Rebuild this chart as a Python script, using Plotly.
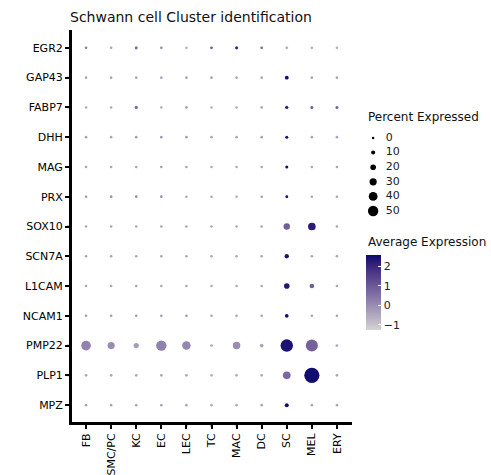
import numpy as np
import plotly.graph_objects as go

# ---------------- data ----------------
genes = ["EGR2", "GAP43", "FABP7", "DHH", "MAG", "PRX", "SOX10",
         "SCN7A", "L1CAM", "NCAM1", "PMP22", "PLP1", "MPZ"]
clusters = ["FB", "SMC/PC", "KC", "EC", "LEC", "TC", "MAC", "DC", "SC", "MEL", "ERY"]

# percent expressed (rows = genes, cols = clusters)
pct_rows = [
    [2, 1, 4, 2, 1, 3, 4, 3, 1.5, 1, 1],          # EGR2
    [1.5, 1.5, 1.5, 1.5, 1.5, 1.5, 1.5, 1.5, 9, 1.5, 1.5],  # GAP43
    [1, 1, 5, 1, 1.5, 1, 1, 1.5, 6, 4, 4],        # FABP7
    [1.5, 1.5, 1.5, 1.5, 1.5, 1.5, 1.5, 1.5, 4, 1.5, 1.5],  # DHH
    [1.5, 1.5, 1.5, 1.5, 1.5, 1.5, 1.5, 1.5, 4, 1.5, 1.5],  # MAG
    [1.5, 2, 2, 2, 1, 1.5, 1.5, 1.5, 3, 1.5, 1.5],  # PRX
    [1.5, 1.5, 1.5, 1.5, 1.5, 1.5, 1.5, 1.5, 25, 33, 1.5],  # SOX10
    [1.5, 1.5, 1.5, 1.5, 1.5, 1.5, 1.5, 1.5, 12, 1.5, 1.5],  # SCN7A
    [1.5, 1.5, 1.5, 1.5, 1.5, 1.5, 1.5, 1.5, 20, 14, 1.5],  # L1CAM
    [1.5, 1.5, 1.5, 1.5, 1.5, 1.5, 1.5, 1.5, 8, 1.5, 1.5],  # NCAM1
    [45, 30, 18, 50, 38, 3, 32, 8, 63, 60, 3],     # PMP22
    [1.5, 1.5, 1.5, 1.5, 1.5, 1.5, 1.5, 1.5, 33, 80, 1.5],  # PLP1
    [1.5, 1.5, 1.5, 1.5, 1.5, 1.5, 1.5, 1.5, 10, 1.5, 1.5],  # MPZ
]
# average (scaled) expression
avg_rows = [
    [0.2, -0.4, 0.6, 0.0, -0.6, 0.8, 2.0, 0.5, -0.4, -0.6, -0.6],
    [-0.4, -0.4, -0.4, -0.4, -0.3, -0.3, -0.4, -0.4, 2.5, -0.4, -0.4],
    [-0.5, -0.4, 0.7, -0.5, -0.3, -0.6, -0.5, -0.4, 2.1, 0.9, 0.8],
    [-0.3, -0.4, -0.3, -0.2, -0.3, -0.4, -0.4, -0.3, 2.4, -0.4, -0.4],
    [-0.4, -0.4, -0.4, -0.3, -0.4, -0.5, -0.5, -0.4, 2.5, -0.5, -0.4],
    [-0.2, 0.0, 0.0, 0.0, -0.4, -0.5, -0.5, -0.3, 2.4, -0.4, -0.4],
    [-0.4, -0.4, -0.4, -0.4, -0.4, -0.5, -0.5, -0.4, 0.9, 2.2, -0.4],
    [-0.4, -0.4, -0.4, -0.4, -0.4, -0.5, -0.5, -0.4, 2.4, -0.4, -0.4],
    [-0.4, -0.4, -0.4, -0.4, -0.4, -0.5, -0.5, -0.4, 2.3, 0.9, -0.4],
    [-0.3, -0.3, -0.3, -0.3, -0.2, -0.4, -0.4, -0.4, 2.5, -0.4, -0.4],
    [0.2, 0.0, -0.3, 0.2, 0.1, -0.5, 0.0, -0.4, 2.4, 0.8, -0.5],
    [-0.4, -0.4, -0.4, -0.4, -0.4, -0.6, -0.5, -0.4, 0.7, 2.5, -0.4],
    [-0.4, -0.4, -0.4, -0.4, -0.4, -0.6, -0.5, -0.4, 2.5, -0.4, -0.4],
]
size_breaks = [0, 10, 20, 30, 40, 50]
color_ticks = [-1, 0, 1, 2]
cmin, cmax = -1.26, 2.57

FONT = "DejaVu Sans"

# ---------------- colour scale (Lab interpolation lightgrey -> navy) -------------
def srgb_to_lab(rgb):
    c = np.array(rgb, float) / 255
    c = np.where(c > 0.04045, ((c + 0.055) / 1.055) ** 2.4, c / 12.92)
    M = np.array([[0.4124, 0.3576, 0.1805], [0.2126, 0.7152, 0.0722], [0.0193, 0.1192, 0.9505]])
    xyz = M @ c / np.array([0.95047, 1.0, 1.08883])
    f = np.where(xyz > 0.008856, np.cbrt(xyz), 7.787 * xyz + 16 / 116)
    return np.array([116 * f[1] - 16, 500 * (f[0] - f[1]), 200 * (f[1] - f[2])])

def lab_to_srgb(lab):
    L, a, b = lab
    fy = (L + 16) / 116
    fx = fy + a / 500
    fz = fy - b / 200
    f = np.array([fx, fy, fz])
    xyz = np.where(f ** 3 > 0.008856, f ** 3, (f - 16 / 116) / 7.787) * np.array([0.95047, 1.0, 1.08883])
    Minv = np.array([[3.2406, -1.5372, -0.4986], [-0.9689, 1.8758, 0.0415], [0.0557, -0.2040, 1.0570]])
    c = Minv @ xyz
    c = np.where(c > 0.0031308, 1.055 * np.clip(c, 0, None) ** (1 / 2.4) - 0.055, 12.92 * c)
    c = np.clip(c, 0, 1) * 255
    return "rgb(%d,%d,%d)" % tuple(np.round(c))

lo, hi = srgb_to_lab((211, 211, 211)), srgb_to_lab((12, 10, 110))
colorscale = [[t, lab_to_srgb(lo + (hi - lo) * t)] for t in np.linspace(0, 1, 11)]

def dot_diam(p):
    return 2.4 + 0.16 * np.asarray(p, float)

# ---------------- geometry ----------------
W, H = 491, 475
px_x = lambda v: v / W
px_y = lambda v: 1 - v / H

xs, ys, ps, cs = [], [], [], []
for gi, g in enumerate(genes):
    for ci, c in enumerate(clusters):
        xs.append(c); ys.append(g)
        ps.append(pct_rows[gi][ci]); cs.append(avg_rows[gi][ci])

fig = go.Figure()
fig.add_trace(go.Scatter(
    x=xs, y=ys, mode="markers", showlegend=False, hoverinfo="skip",
    marker=dict(size=dot_diam(ps), sizemode="diameter", color=cs, opacity=1,
                colorscale=colorscale, cmin=cmin, cmax=cmax, line=dict(width=0),
                showscale=True,
                colorbar=dict(x=px_x(366), xanchor="left", xpad=0, ypad=0,
                              y=px_y(255), yanchor="top", len=75, lenmode="pixels",
                              thickness=15, thicknessmode="pixels", outlinewidth=0,
                              tickvals=color_ticks, ticks="inside", ticklen=3,
                              tickcolor="white", tickwidth=1,
                              tickfont=dict(family=FONT, size=11, color="#222"),
                              title=dict(text=""))),
))

# size legend (separate hidden axes)
fig.add_trace(go.Scatter(
    x=[0.13] * len(size_breaks), y=size_breaks, xaxis="x2", yaxis="y2",
    mode="markers", showlegend=False, hoverinfo="skip",
    marker=dict(size=dot_diam(size_breaks), sizemode="diameter", color="black",
                opacity=1, line=dict(width=0)),
))
fig.add_trace(go.Scatter(
    x=[0.36] * len(size_breaks), y=size_breaks, xaxis="x2", yaxis="y2",
    mode="text", text=[str(s) for s in size_breaks], textposition="middle right",
    showlegend=False, hoverinfo="skip",
    textfont=dict(family=FONT, size=11, color="#222"),
))

axis_common = dict(showline=True, linecolor="black", linewidth=2, ticks="outside",
                   ticklen=4, tickwidth=1.5, tickcolor="black", showgrid=False,
                   zeroline=False,
                   tickfont=dict(family=FONT, size=11, color="black"))
hidden = dict(showline=False, showticklabels=False, ticks="", showgrid=False, zeroline=False)

# axis lines and tick marks as shapes (bound to the axes)
shapes = [
    dict(type="line", xref="x domain", yref="y domain", x0=0, x1=1, y0=0, y1=0,
         line=dict(color="black", width=2)),
    dict(type="line", xref="x domain", yref="y domain", x0=0, x1=0, y0=0, y1=1,
         line=dict(color="black", width=2)),
]
for c in clusters:
    shapes.append(dict(type="line", xref="x", yref="y domain", ysizemode="pixel", yanchor=0,
                       x0=c, x1=c, y0=0, y1=-4, line=dict(color="black", width=1.5)))
for g in genes:
    shapes.append(dict(type="line", xref="x domain", yref="y", xsizemode="pixel", xanchor=0,
                       x0=0, x1=-4, y0=g, y1=g, line=dict(color="black", width=1.5)))

fig.update_layout(
    width=W, height=H, margin=dict(l=0, r=0, t=0, b=0),
    paper_bgcolor="white", plot_bgcolor="white",
    xaxis=dict(domain=[px_x(71), px_x(352)], categoryorder="array", categoryarray=clusters,
               range=[-0.6, 10.6], tickangle=-90, anchor="y", **axis_common),
    yaxis=dict(domain=[px_y(423), px_y(30)], categoryorder="array", categoryarray=genes,
               range=[12.6, -0.6], anchor="x", **axis_common),
    xaxis2=dict(domain=[px_x(366), px_x(421)], range=[0, 1], anchor="y2", **hidden),
    yaxis2=dict(domain=[px_y(218.3), px_y(130.7)], range=[55, -5], anchor="x2", **hidden),
    shapes=shapes,
    annotations=[
        dict(text="Schwann cell Cluster identification", x=px_x(68), y=px_y(17),
             xref="paper", yref="paper", xanchor="left", yanchor="middle", showarrow=False,
             font=dict(family=FONT, size=14, color="#111")),
        dict(text="Percent Expressed", x=px_x(366), y=px_y(117),
             xref="paper", yref="paper", xanchor="left", yanchor="middle", showarrow=False,
             font=dict(family=FONT, size=12, color="#111")),
        dict(text="Average Expression", x=px_x(366), y=px_y(242),
             xref="paper", yref="paper", xanchor="left", yanchor="middle", showarrow=False,
             font=dict(family=FONT, size=12, color="#111")),
    ],
)

fig.write_html("out.html")
